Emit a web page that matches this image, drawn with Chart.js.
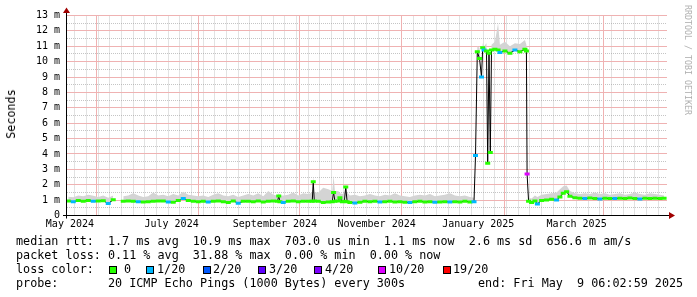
<!DOCTYPE html>
<html>
<head>
<meta charset="utf-8">
<script src="https://cdn.jsdelivr.net/npm/chart.js@4.4.1/dist/chart.umd.min.js"></script>
<style>
    body { margin: 0; background: #fff; }
    #wrap { position: relative; width: 697px; height: 297px; overflow: hidden; background: #fff; }
    #chart { position: absolute; left: 0; top: 0; }
    .txt { position: absolute; font-family: 'DejaVu Sans Mono', monospace; font-size: 11.76px; line-height: 14px; white-space: pre; color: #000; }
    .box { position: absolute; width: 8px; height: 8px; box-sizing: border-box; border: 1px solid #000; }
    #ylabel { left: 10.5px; top: 114px; transform: translate(-50%, -50%) rotate(-90deg); }
    #mark { position: absolute; left: 692px; top: 5px; transform-origin: top left; transform: rotate(90deg);
            font-family: 'DejaVu Sans Mono', monospace; font-size: 8.3px; line-height: 9px; white-space: pre; color: #b0b0b0; }
</style>
</head>
<body>
<div id="wrap">
    <canvas id="chart" width="697" height="297"></canvas>
    <div id="ylabel" class="txt">Seconds</div>
    <div id="mark">RRDTOOL / TOBI OETIKER</div>
    <div id="legend"></div>
</div>
<script>
/* ------------------------------- Data -------------------------------*/

// days since 1 May 2024
var days = [
    14, 17, 20, 23, 26, 29, 32, 35, 38, 41,
    44,
    47, 50, 53, 56, 59, 62, 65, 68, 71, 74, 77, 80, 83, 86, 89, 92, 95, 98, 101, 104,
    107, 110, 113, 116, 119, 122, 125, 128, 131, 134, 137,
    139.6, 140.3, 141, 143, 146, 149, 152, 155, 158, 160.4, 161, 161.6, 164, 167, 170,
    172.4, 173.2, 174, 176, 177, 178.5, 179.7, 180.5, 181.3,
    183, 186, 189, 192, 195, 198, 201, 204, 207, 210, 213, 216, 219, 222, 225, 228,
    231, 234, 237, 240, 243, 246, 249, 252, 255, 257.45,
    258.35, 259.43, 260.75, 261.95, 262.67, 263.45, 264.95, 265.67, 266.45, 267.23, 267.95,
    270, 271.9, 273, 276, 279, 282, 285, 288, 288.9, 289.3, 290.2,
    292, 294, 295.5, 298, 301, 304, 307, 309, 311, 313, 315,
    318, 321, 324, 327, 330, 333, 336, 339, 342, 345, 348, 351, 354, 357, 360, 363, 366, 369,
    371.5
];

// median rtt in ms
var medianRtt = [
    0.95, 0.9, 0.97, 0.93, 0.98, 0.92, 0.95, 0.96, 0.78, 1.02,
    null,
    0.93, 0.95, 0.92, 0.9, 0.88, 0.9, 0.93, 0.95, 0.94, 0.88, 0.86, 0.97, 1.1, 0.98, 0.93, 0.9,
    0.92, 0.87, 0.93, 0.95, 0.9, 0.85, 0.95, 0.8, 0.92, 0.93, 0.9, 0.95, 0.88, 0.92, 0.95,
    0.92, 1.27, 0.9, 0.85, 0.93, 0.95, 0.9, 0.93, 0.92, 0.93, 2.2, 0.95, 0.92, 0.85, 0.88,
    0.9, 1.5, 0.92, 0.95, 1.15, 0.9, 0.92, 1.85, 0.9,
    0.85, 0.82, 0.86, 0.92, 0.9, 0.93, 0.87, 0.9, 0.92, 0.88, 0.9, 0.86, 0.84, 0.9, 0.92, 0.88,
    0.9, 0.86, 0.88, 0.9, 0.87, 0.9, 0.88, 0.92, 0.88, 0.9,
    3.9, 10.65, 10.2, 9.0, 10.9, 10.75, 10.7, 3.4, 10.55, 4.1, 10.75,
    10.8, 10.75, 10.6, 10.7, 10.55, 10.75, 10.65, 10.8, 10.7, 2.7, 0.92,
    0.85, 0.95, 0.75, 0.98, 1.0, 1.05, 1.0, 1.2, 1.45, 1.55, 1.25,
    1.15, 1.12, 1.1, 1.13, 1.1, 1.08, 1.12, 1.1, 1.1, 1.12, 1.1, 1.13, 1.1, 1.08, 1.12, 1.1, 1.12, 1.1,
    1.12
];

// index into lossLabels / lossColors
var lossIndex = [
    0, 1, 0, 0, 0, 1, 0, 0, 1, 0,
    0,
    0, 0, 0, 1, 0, 0, 0, 0, 0, 1, 0, 0, 1, 0, 0, 0,
    0, 1, 0, 0, 0, 0, 0, 1, 0, 0, 0, 0, 0, 0, 0,
    0, 0, 0, 1, 0, 0, 0, 0, 0, 0, 0, 0, 0, 0, 0,
    0, 0, 0, 0, 0, 0, 0, 0, 0,
    0, 1, 0, 0, 0, 0, 1, 0, 0, 0, 0, 0, 1, 0, 0, 0,
    0, 1, 0, 0, 1, 0, 0, 0, 0, 1,
    1, 0, 0, 1, 0, 1, 0, 0, 0, 0, 0,
    0, 0, 1, 0, 0, 1, 0, 0, 0, 5, 0,
    0, 0, 1, 0, 0, 0, 1, 0, 0, 0, 0,
    0, 0, 1, 0, 0, 1, 0, 0, 1, 0, 0, 0, 0, 1, 0, 0, 0, 0,
    0
];

// top of the smoke (slowest pings) in ms
var smokeTop = [
    1.22, 1.18, 1.3, 1.25, 1.35, 1.28, 1.2, 1.3, 1.15, 1.3,
    null,
    1.25, 1.3, 1.45, 1.3, 1.2, 1.25, 1.5, 1.3, 1.35, 1.25, 1.4, 1.3, 1.55, 1.35, 1.3, 1.25,
    1.3, 1.2, 1.35, 1.45, 1.3, 1.25, 1.35, 1.2, 1.3, 1.4, 1.3, 1.45, 1.25, 1.6, 1.35,
    1.3, 1.45, 1.3, 1.3, 1.35, 1.5, 1.3, 1.45, 1.4, 1.5, 2.55, 1.5, 1.5, 1.8, 1.7,
    1.6, 2.6, 1.6, 1.6, 1.45, 1.4, 1.5, 2.0, 1.5,
    1.3, 1.35, 1.25, 1.3, 1.4, 1.3, 1.25, 1.35, 1.3, 1.45, 1.3, 1.25, 1.2, 1.3, 1.35, 1.3,
    1.4, 1.25, 1.3, 1.35, 1.45, 1.3, 1.25, 1.3, 1.2, 1.15,
    4.0, 11.0, 10.9, 9.3, 11.2, 11.0, 11.2, 3.6, 10.9, 4.3, 11.1,
    11.3, 12.5, 11.1, 11.3, 11.0, 11.2, 11.15, 11.4, 11.1, 2.8, 1.15,
    1.1, 1.3, 1.2, 1.35, 1.4, 1.45, 1.5, 1.7, 1.9, 1.95, 1.6,
    1.45, 1.4, 1.45, 1.4, 1.5, 1.4, 1.45, 1.35, 1.4, 1.45, 1.35, 1.4, 1.5, 1.4, 1.35, 1.45, 1.4, 1.35,
    1.3
];

var lossLabels = ['0', '1/20', '2/20', '3/20', '4/20', '10/20', '19/20'];
var lossColors = ['#26ff00', '#00b8ff', '#0059ff', '#5e00ff', '#7e00ff', '#dd00ff', '#ff0000'];

var xLabelDays = [15, 76, 138, 199, 260, 319];
var xLabels = ['May 2024', 'July 2024', 'September 2024', 'November 2024', 'January 2025', 'March 2025'];
var monthGridDays = [31, 92, 153, 214, 276, 335];
var yTickValues = [0, 1, 2, 3, 4, 5, 6, 7, 8, 9, 10, 11, 12, 13];
var yTickLabels = ['0', '1 m', '2 m', '3 m', '4 m', '5 m', '6 m', '7 m', '8 m', '9 m', '10 m', '11 m', '12 m', '13 m'];

var legendRows = [
    'median rtt:  1.7 ms avg  10.9 ms max  703.0 us min  1.1 ms now  2.6 ms sd  656.6 m am/s',
    'packet loss: 0.11 % avg  31.88 % max  0.00 % min  0.00 % now',
    'loss color:',
    'probe:       20 ICMP Echo Pings (1000 Bytes) every 300s'
];
var legendEnd = 'end: Fri May  9 06:02:59 2025';

/* ------------------------------- Layout -------------------------------*/

var X_MIN = 13.25, X_MAX = 373.25;
var MAJOR_GRID = '#efb2b2';
var MINOR_GRID = 'rgba(150, 150, 150, 0.55)';
var FONT = 'DejaVu Sans Mono';
var rowTops = [233.5, 247.5, 261.5, 276];
var lossBoxX = [109, 146, 203, 258, 314, 378, 443];
var lossTextX = [124, 157, 213, 269, 325, 389, 453];

function tickList(values) {
    return values.map(function (v) { return { value: v }; });
}

function toPoints(values) {
    return days.map(function (d, i) { return { x: d, y: values[i] }; });
}

var weekDays = [];
for (var w = 18; w < X_MAX; w += 7) weekDays.push(w);        // sundays

var yHalfValues = yTickValues.slice(0, -1).map(function (v) { return v + 0.5; });

/* ------------------------------- Legend -------------------------------*/

function printLegend() {
    var legend = document.getElementById('legend');
    legendRows.forEach(function (text, i) {
        addText(legend, text, 16, rowTops[i]);
    });
    addText(legend, legendEnd, 478, rowTops[3]);

    lossLabels.forEach(function (label, i) {
        var box = document.createElement('div');
        box.className = 'box';
        box.style.left = lossBoxX[i] + 'px';
        box.style.top = (rowTops[2] + 4) + 'px';
        box.style.background = lossColors[i];
        legend.appendChild(box);
        addText(legend, label, lossTextX[i], rowTops[2]);
    });
}

function addText(parent, text, left, top) {
    var el = document.createElement('div');
    el.className = 'txt';
    el.textContent = text;
    el.style.left = left + 'px';
    el.style.top = top + 'px';
    parent.appendChild(el);
}

/* ------------------------------- Chart -------------------------------*/

var rrdAxes = {                                     // axis lines and red arrows like rrdtool
    id: 'rrdAxes',
    afterDatasetsDraw: function (chart) {
        var ctx = chart.ctx, a = chart.chartArea;
        var x0 = Math.floor(a.left) - 0.5, y0 = Math.round(a.bottom) - 0.5;
        ctx.save();
        ctx.strokeStyle = '#000';
        ctx.lineWidth = 1;
        ctx.beginPath();
        ctx.moveTo(a.left - 4, y0);
        ctx.lineTo(a.right + 3, y0);
        ctx.moveTo(x0, a.bottom + 3);
        ctx.lineTo(x0, a.top - 3);
        ctx.stroke();

        ctx.fillStyle = '#a00000';
        ctx.beginPath();
        ctx.moveTo(x0, a.top - 8);
        ctx.lineTo(x0 - 3.5, a.top - 2.5);
        ctx.lineTo(x0 + 3.5, a.top - 2.5);
        ctx.fill();
        ctx.beginPath();
        ctx.moveTo(a.right + 8, y0);
        ctx.lineTo(a.right + 2, y0 - 3.5);
        ctx.lineTo(a.right + 2, y0 + 3.5);
        ctx.fill();
        ctx.restore();
    }
};

function gridAxis(axis, values, color, dash) {            // an axis that only draws grid lines
    var min = axis == 'x' ? X_MIN : 0;
    var max = axis == 'x' ? X_MAX : 13;
    return {
        type: 'linear', axis: axis, position: axis == 'x' ? 'bottom' : 'left', min: min, max: max,
        afterBuildTicks: function (scale) { scale.ticks = tickList(values); },
        afterFit: function (scale) {
            if (axis == 'x') scale.height = 0;
            else scale.width = 0;
        },
        ticks: { display: false },
        grid: { color: color, drawTicks: false },
        border: { display: false, dash: dash }
    };
}

new Chart(document.getElementById('chart'), {
    type: 'line',
    data: {
        datasets: [{
            data: toPoints(medianRtt),
            borderColor: '#000',
            borderWidth: 1,
            pointStyle: 'line',
            pointRadius: 2.5,
            pointHoverRadius: 2.5,
            pointBorderWidth: 3,
            pointHoverBorderWidth: 3,
            pointBorderColor: function (c) { return lossColors[lossIndex[c.dataIndex]]; },
            spanGaps: false,
            fill: false
        }, {
            data: toPoints(smokeTop),
            borderColor: 'rgba(0,0,0,0)',
            borderWidth: 1,
            pointRadius: 0,
            backgroundColor: '#d4d4d4',
            spanGaps: false,
            fill: 0
        }]
    },
    options: {
        responsive: false,
        animation: false,
        devicePixelRatio: 1,
        events: [],
        layout: { padding: { top: 15.5, right: 30, bottom: 0, left: 0 } },
        plugins: { legend: { display: false }, tooltip: { enabled: false } },
        scales: {
            x: {
                type: 'linear', position: 'bottom', min: X_MIN, max: X_MAX,
                afterBuildTicks: function (scale) { scale.ticks = tickList(xLabelDays); },
                afterFit: function (scale) { scale.height = 81.5; },
                ticks: {
                    autoSkip: false, maxRotation: 0, padding: 3, color: '#000',
                    font: { family: FONT, size: 10 },
                    callback: function (value, index) { return xLabels[index]; }
                },
                grid: { display: false, drawTicks: false },
                border: { display: false }
            },
            y: {
                type: 'linear', position: 'left', min: 0, max: 13,
                afterBuildTicks: function (scale) { scale.ticks = tickList(yTickValues); },
                afterFit: function (scale) { scale.width = 67; },
                ticks: {
                    autoSkip: false, padding: 7, color: '#000',
                    font: { family: FONT, size: 10 },
                    callback: function (value, index) { return yTickLabels[index]; }
                },
                grid: { display: false, drawTicks: false },
                border: { display: false }
            },
            xMinor: gridAxis('x', weekDays, MINOR_GRID, [1, 1]),
            yMinor: gridAxis('y', yHalfValues, MINOR_GRID, [1, 1]),
            xMajor: gridAxis('x', monthGridDays, MAJOR_GRID, []),
            yMajor: gridAxis('y', yTickValues, MAJOR_GRID, [])
        }
    },
    plugins: [rrdAxes]
});

printLegend();
</script>
</body>
</html>
